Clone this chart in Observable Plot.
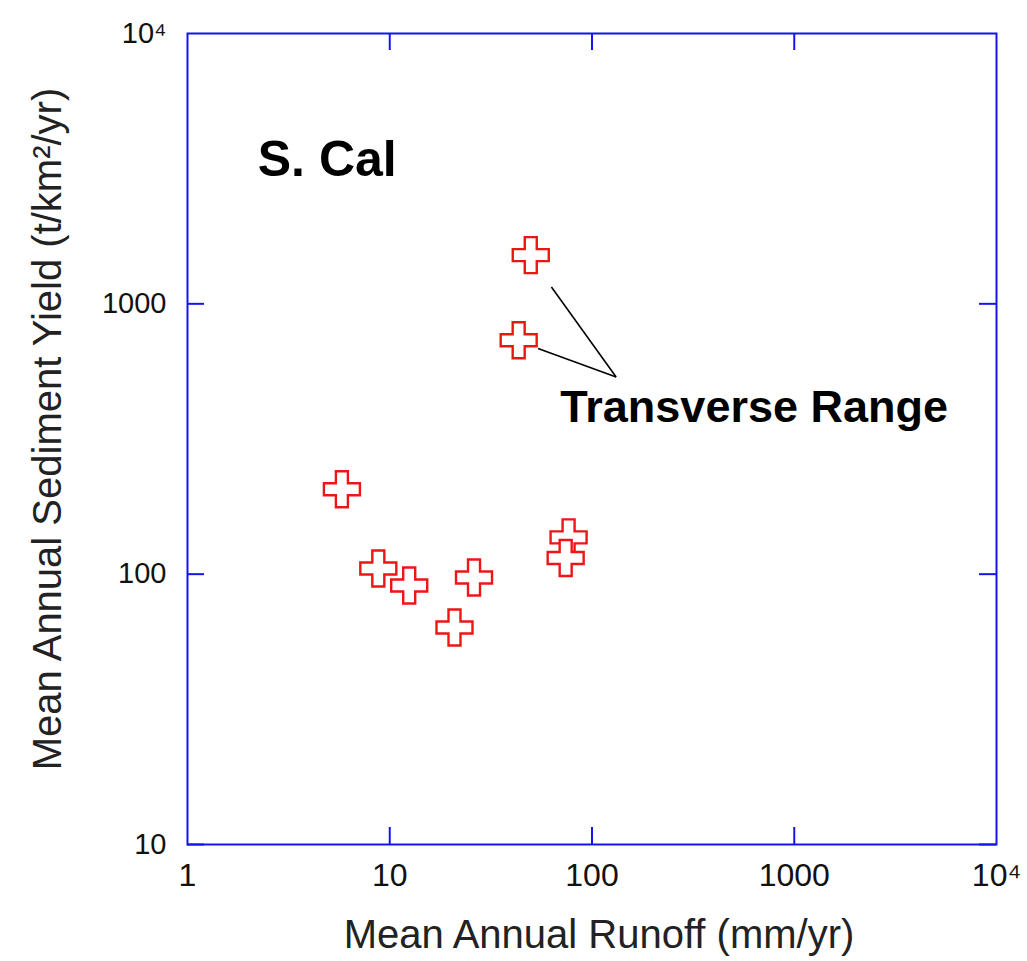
<!DOCTYPE html>
<html>
<head>
<meta charset="utf-8">
<script src="https://cdn.jsdelivr.net/npm/d3@7"></script>
<script src="https://cdn.jsdelivr.net/npm/@observablehq/plot@0.6"></script>
<style>
  html, body { margin: 0; padding: 0; background: #fff; }
  #chart { width: 1027px; height: 961px; }
</style>
</head>
<body>
<div id="chart"></div>
<script>
// ---- data ----
const runoff = [5.80, 8.78, 12.48, 20.9, 26.1, 43.4, 49.8, 76.6, 74.1];       // mm/yr
const sedimentYield = [206, 105, 90.8, 63.5, 97.2, 733, 1514, 136.8, 114.8]; // t/km2/yr

const xTickValues = [1, 10, 100, 1000, 10000];
const yTickValues = [10, 100, 1000, 10000];
const innerTickValues = [10, 100, 1000];

// annotation leader lines (data coordinates)
const leaderX1 = [63.0, 54.1];
const leaderY1 = [1155, 683];
const leaderX2 = [131.6, 131.6];
const leaderY2 = [536, 536];

const labelTexts = ["S. Cal", "Transverse Range"];
const labelX = [2.225, 69.7];
const labelY = [2968, 364.6];
const labelSizes = [50, 45];

const xLabel = "Mean Annual Runoff (mm/yr)";
const yLabel = "Mean Annual Sediment Yield (t/km\u00B2/yr)";

// ---- build ----
const points = runoff.map((x, i) => ({x, y: sedimentYield[i]}));
const leaders = leaderX1.map((x1, i) => ({x1, y1: leaderY1[i], x2: leaderX2[i], y2: leaderY2[i]}));
const labels = labelTexts.map((t, i) => ({t, x: labelX[i], y: labelY[i], s: labelSizes[i]}));

const fmt = d => d === 10000 ? "10\u2074" : String(d);

const plusOutline = {
  draw(context, size) {
    const r = Math.sqrt(size / Math.PI);
    const a = r / 3;
    context.moveTo(-a, -r);
    context.lineTo(a, -r);
    context.lineTo(a, -a);
    context.lineTo(r, -a);
    context.lineTo(r, a);
    context.lineTo(a, a);
    context.lineTo(a, r);
    context.lineTo(-a, r);
    context.lineTo(-a, a);
    context.lineTo(-r, a);
    context.lineTo(-r, -a);
    context.lineTo(-a, -a);
    context.closePath();
  }
};

const W = 1027, H = 961;
const mL = 187, mR = 31, mT = 33, mB = 117;
const fw = W - mL - mR, fh = H - mT - mB;
const tickLen = 17;
const blue = "#1414ee";
const red = "#ee1515";
const font = "'Liberation Sans', Arial, Helvetica, sans-serif";

const chart = Plot.plot({
  width: W,
  height: H,
  marginLeft: mL,
  marginRight: mR,
  marginTop: mT,
  marginBottom: mB,
  style: {fontFamily: font, color: "#111", background: "#fff", overflow: "visible"},
  x: {type: "log", domain: [1, 10000]},
  y: {type: "log", domain: [10, 10000]},
  marks: [
    // inward decade ticks on all four sides
    Plot.ruleX(innerTickValues, {stroke: blue, strokeWidth: 2, insetTop: fh - tickLen}),
    Plot.ruleX(innerTickValues, {stroke: blue, strokeWidth: 2, insetBottom: fh - tickLen}),
    Plot.ruleY(innerTickValues, {stroke: blue, strokeWidth: 2, insetRight: fw - tickLen}),
    Plot.ruleY(innerTickValues, {stroke: blue, strokeWidth: 2, insetLeft: fw - tickLen}),
    Plot.frame({stroke: blue, strokeWidth: 2}),
    Plot.axisX({ticks: xTickValues, tickSize: 0, tickPadding: 19, tickFormat: fmt, fontSize: 32, label: null, fill: "#111"}),
    Plot.axisY({ticks: yTickValues, tickSize: 0, tickPadding: 21, tickFormat: fmt, fontSize: 29, label: null, fill: "#111"}),
    Plot.text([xLabel], {frameAnchor: "bottom", text: d => d, dx: 7, dy: 103, lineAnchor: "bottom", textAnchor: "middle", fontSize: 40, fill: "#222"}),
    Plot.text([yLabel], {frameAnchor: "left", text: d => d, dx: -127, dy: -10, rotate: -90, lineAnchor: "bottom", textAnchor: "middle", fontSize: 40, fill: "#222"}),
    Plot.link(leaders, {x1: "x1", y1: "y1", x2: "x2", y2: "y2", stroke: "#000", strokeWidth: 1.6}),
    Plot.text(labels, {x: "x", y: "y", text: "t", fontSize: d => d.s, fontWeight: "bold", textAnchor: "start", lineAnchor: "bottom", fill: "#000"}),
    Plot.dot(points, {x: "x", y: "y", r: 18, symbol: plusOutline, stroke: red, strokeWidth: 2.4, fill: "white"})
  ]
});

document.getElementById("chart").appendChild(chart);
</script>
</body>
</html>
